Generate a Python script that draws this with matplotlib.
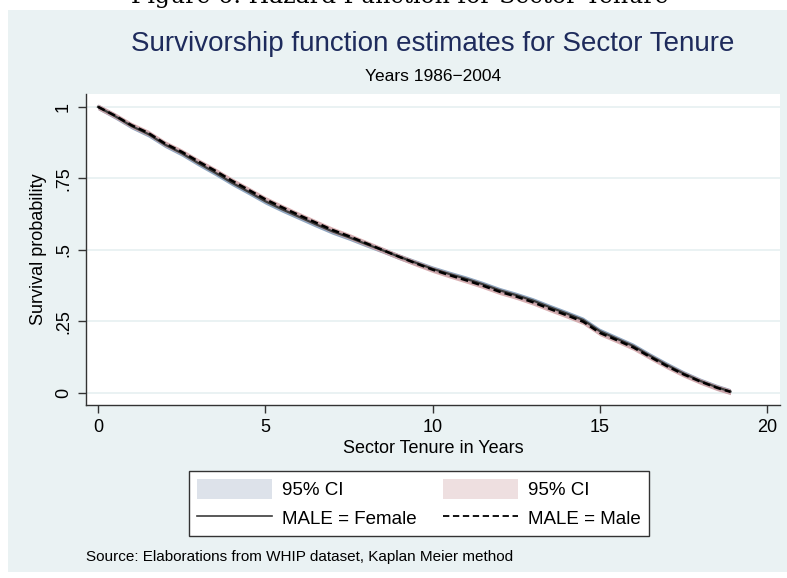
import matplotlib
matplotlib.use("Agg")
import matplotlib.pyplot as plt
from matplotlib.patches import Rectangle, Patch
from matplotlib.lines import Line2D
import numpy as np

# ---- data ----
years = [0, 0.5, 1, 1.5, 2, 2.5, 3, 3.5, 4, 4.5, 5, 5.5, 6, 6.5, 7, 7.5, 8, 8.5,
         9, 9.5, 10, 10.5, 11, 11.5, 12, 12.5, 13, 13.5, 14, 14.5, 15, 15.5,
         16, 16.5, 17, 17.5, 18, 18.5, 18.9]
surv_female = [1.0, 0.968, 0.933, 0.905, 0.868, 0.838, 0.803, 0.770, 0.735, 0.703,
               0.670, 0.642, 0.616, 0.590, 0.565, 0.544, 0.521, 0.499, 0.476, 0.455,
               0.434, 0.416, 0.399, 0.380, 0.359, 0.342, 0.323, 0.300, 0.278, 0.255,
               0.216, 0.190, 0.164, 0.130, 0.098, 0.068, 0.042, 0.020, 0.005]
surv_male = [1.0, 0.970, 0.936, 0.909, 0.872, 0.843, 0.809, 0.777, 0.742, 0.710,
             0.677, 0.649, 0.622, 0.596, 0.570, 0.548, 0.524, 0.500, 0.476, 0.453,
             0.431, 0.412, 0.394, 0.375, 0.354, 0.337, 0.317, 0.294, 0.272, 0.249,
             0.210, 0.185, 0.159, 0.126, 0.094, 0.065, 0.040, 0.018, 0.004]
ci_half_female = 0.010
ci_half_male = 0.010
x_ticks = [0, 5, 10, 15, 20]
y_ticks = [0, 0.25, 0.5, 0.75, 1]
y_ticklabels = ["0", ".25", ".5", ".75", "1"]

W, H = 787, 578
fig = plt.figure(figsize=(W / 100, H / 100), dpi=100)
fig.patch.set_facecolor("white")
SANS = ["Liberation Sans", "DejaVu Sans"]
plt.rcParams["font.family"] = SANS

# panel background
bg = "#EAF2F3"
fig.patches.append(Rectangle((8 / W, 1 - 572 / H), 1 - 8 / W, (572 - 10) / H,
                             transform=fig.transFigure, facecolor=bg,
                             edgecolor="none", zorder=-10))

# clipped heading from the page above
fig.text(400 / W, 1 - 3 / H, "Figure 6: Hazard Function for Sector Tenure",
         family=["DejaVu Serif"], fontsize=17, ha="center", va="baseline",
         color="black", zorder=-5)

ax = fig.add_axes([86 / W, 1 - 405 / H, (780 - 86) / W, (405 - 94) / H])
ax.set_facecolor("white")

t = np.array(years)
f = np.array(surv_female)
m = np.array(surv_male)

col_f_band = "#8FA6C0"
col_m_band = "#D2A3A6"
ax.fill_between(t, f - ci_half_female, f + ci_half_female, color=col_f_band,
                lw=0, zorder=2)
ax.fill_between(t, m - ci_half_male, m + ci_half_male, color=col_m_band,
                lw=0, zorder=2, alpha=0.85)
ax.plot(t, f, color="#3C3C3C", lw=1.6, zorder=3)
ax.plot(t, m, color="black", lw=1.8, ls=(0, (3.0, 1.6)), zorder=4)

ax.set_xlim(-0.36, 20.38)
ax.set_ylim(-0.042, 1.045)
ax.set_xticks(x_ticks)
ax.set_xticklabels([str(v) for v in x_ticks], fontsize=13)
ax.set_yticks(y_ticks)
ax.set_yticklabels(y_ticklabels, fontsize=13, rotation=90, va="center")
ax.grid(axis="y", color=bg, lw=1.4, zorder=1)
ax.set_axisbelow(True)
for s in ["top", "right"]:
    ax.spines[s].set_visible(False)
for s in ["left", "bottom"]:
    ax.spines[s].set_color("#333333")
    ax.spines[s].set_linewidth(1.0)
ax.tick_params(direction="out", length=6, width=1, color="#333333", pad=4)
ax.set_ylabel("Survival probability", fontsize=13, labelpad=6)
ax.set_xlabel("Sector Tenure in Years", fontsize=13, labelpad=3)

# titles
fig.text(433 / W, 1 - 44 / H, "Survivorship function estimates for Sector Tenure",
         fontsize=20, color="#1E2B5C", ha="center", va="center")
fig.text(433 / W, 1 - 77 / H, "Years 1986\u22122004", fontsize=12.5,
         color="black", ha="center", va="center")

# legend
handles = [Patch(facecolor="#DDE2EA", edgecolor="none"),
           Line2D([], [], color="#3C3C3C", lw=1.2),
           Patch(facecolor="#EEDFE0", edgecolor="none"),
           Line2D([], [], color="black", lw=1.3, ls=(0, (3.5, 2)))]
labels = ["95% CI", "MALE = Female", "95% CI", "MALE = Male"]
leg = fig.legend(handles, labels, ncol=2, loc="center",
                 bbox_to_anchor=(419 / W, 1 - 503.5 / H), fontsize=13.5,
                 frameon=True, fancybox=False, handlelength=4.0,
                 handleheight=1.3, handletextpad=0.55, columnspacing=1.4,
                 labelspacing=0.45, borderpad=0.4)
leg.get_frame().set_edgecolor("#333333")
leg.get_frame().set_facecolor("white")
leg.get_frame().set_alpha(1.0)
leg.get_frame().set_linewidth(1.0)

fig.text(86 / W, 1 - 557 / H, "Source: Elaborations from WHIP dataset, Kaplan Meier method",
         fontsize=11, ha="left", va="center")

fig.savefig("out.png", dpi=100, facecolor="white")
